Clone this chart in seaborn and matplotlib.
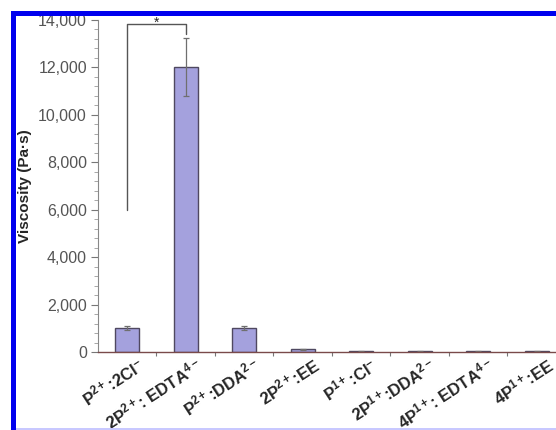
import numpy as np
import pandas as pd
import matplotlib
matplotlib.use("Agg")
import matplotlib.pyplot as plt
import matplotlib.transforms as mtransforms
from matplotlib.ticker import AutoMinorLocator, FixedLocator, FuncFormatter
from matplotlib.patches import Rectangle
import seaborn as sns

# values
labels = [r"P$^{2+}$:2Cl$^{-}$", r"2P$^{2+}$: EDTA$^{4-}$", r"P$^{2+}$:DDA$^{2-}$",
          r"2P$^{2+}$:EE", r"P$^{1+}$:Cl$^{-}$", r"2P$^{1+}$:DDA$^{2-}$",
          r"4P$^{1+}$: EDTA$^{4-}$", r"4P$^{1+}$:EE"]
viscosity = [1000, 12000, 1000, 110, 30, 30, 30, 30]
errors = [80, 1220, 80, 20, 10, 10, 10, 10]

sns.set_style("white")
plt.rcParams["font.family"] = ["Liberation Sans", "DejaVu Sans"]
plt.rcParams["mathtext.fontset"] = "custom"
plt.rcParams["mathtext.rm"] = "Liberation Sans:bold"
plt.rcParams["mathtext.default"] = "rm"

df = pd.DataFrame({"label": labels, "viscosity": viscosity, "err": errors})

fig = plt.figure(figsize=(5.56, 4.30), dpi=100)
ax = fig.add_axes([98 / 556, 78 / 430, 468 / 556, 332 / 430])

sns.barplot(data=df, x="label", y="viscosity", color="#a4a1dd", width=0.41,
            edgecolor="#4f4860", linewidth=1.0, saturation=1, ax=ax)
ax.errorbar(np.arange(len(viscosity)), viscosity, yerr=errors, fmt="none",
            ecolor="#6f6f6f", elinewidth=0.9, capsize=2, capthick=0.9)

ax.set_xlim(-0.5, len(labels) - 0.5)
ax.set_ylim(0, 14000)
ax.yaxis.set_major_locator(FixedLocator(np.arange(0, 14001, 2000)))
ax.yaxis.set_minor_locator(AutoMinorLocator(5))
ax.yaxis.set_major_formatter(FuncFormatter(lambda v, p: f"{int(v):,}"))
ax.tick_params(axis="y", which="major", left=True, length=5, width=0.8,
               color="#777777", labelsize=11.5, labelcolor="#555555", pad=3)
ax.tick_params(axis="y", which="minor", left=True, length=3, width=0.6, color="#999999")

ax.xaxis.set_minor_locator(FixedLocator(np.arange(0.5, len(labels) - 0.5, 1)))
ax.tick_params(axis="x", which="major", length=0, labelsize=12, pad=2)
ax.tick_params(axis="x", which="minor", bottom=True, length=3, width=0.8, color="#777777")

offset = mtransforms.ScaledTranslation(9 / 100, 0, fig.dpi_scale_trans)
for t in ax.get_xticklabels():
    t.set_rotation(33)
    t.set_ha("right")
    t.set_va("top")
    t.set_rotation_mode("anchor")
    t.set_fontweight("bold")
    t.set_transform(t.get_transform() + offset)

ax.set_xlabel("")
ax.set_ylabel("Viscosity (Pa·s)", fontsize=11, fontweight="bold", labelpad=4)

for side in ["top", "right"]:
    ax.spines[side].set_visible(False)
ax.spines["left"].set_color("#888888")
ax.spines["left"].set_linewidth(0.8)
ax.spines["bottom"].set_color("#7a4a4a")
ax.spines["bottom"].set_linewidth(1.0)

# significance bracket
ax.plot([0, 0, 1, 1], [6000, 13850, 13850, 13400], color="#555555", lw=1.0, clip_on=False)
ax.text(0.5, 13700, "*", ha="center", va="baseline", fontsize=10, clip_on=False)

# blue frame of the original figure
fig.add_artist(Rectangle((11 / 556, (430 - 16) / 430), 545 / 556, 5 / 430,
                         transform=fig.transFigure, color="#0000ee", lw=0))
fig.add_artist(Rectangle((11 / 556, 0), 5 / 556, (430 - 11) / 430,
                         transform=fig.transFigure, color="#0000ee", lw=0))
fig.add_artist(Rectangle((16 / 556, 0), 540 / 556, 2 / 430,
                         transform=fig.transFigure, color="#c8c8ff", lw=0))

fig.savefig("out.png", dpi=100)
